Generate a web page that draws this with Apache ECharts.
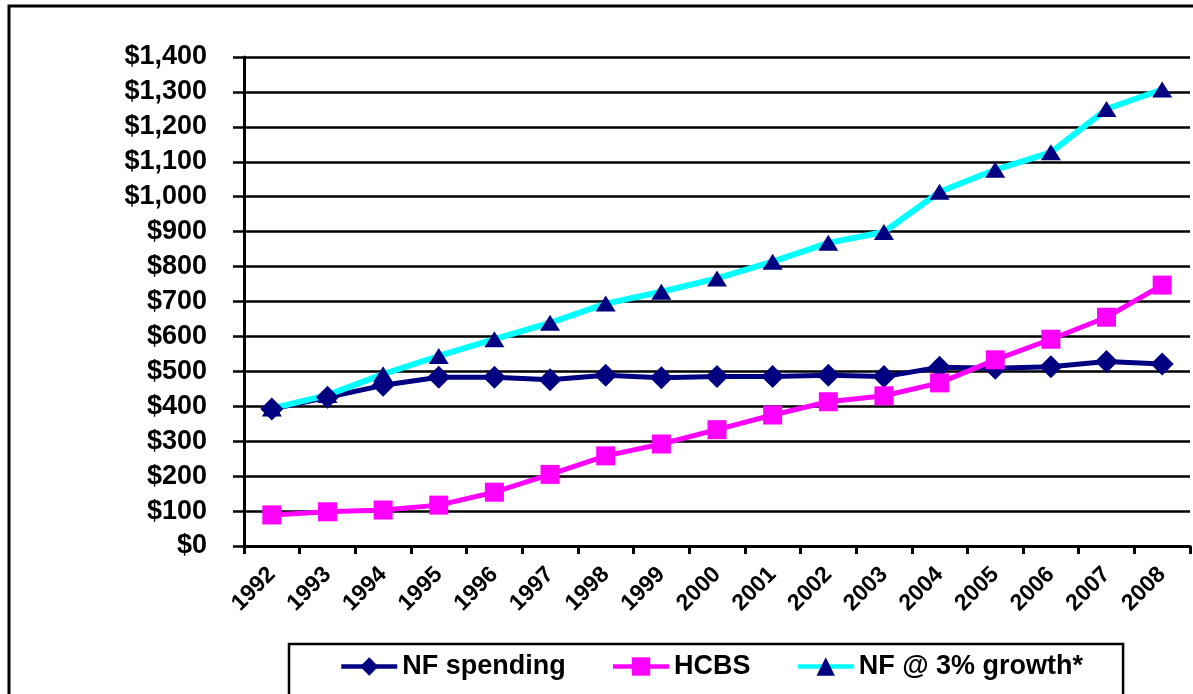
<!DOCTYPE html>
<html>
<head>
<meta charset="utf-8">
<title>NF spending vs HCBS</title>
<script src="https://cdn.jsdelivr.net/npm/echarts@6/dist/echarts.min.js"></script>
<style>
	html, body { margin: 0; padding: 0; background: #fff; }
	#main { width: 1193px; height: 694px; }
</style>
</head>
<body>
<div id="main"></div>
<script>
// years on the x axis
var years = ['1992', '1993', '1994', '1995', '1996', '1997', '1998', '1999', '2000',
	'2001', '2002', '2003', '2004', '2005', '2006', '2007', '2008'];

// values (millions of $)
var nfSpending = [392, 426, 460, 483, 483, 476, 489, 482, 485, 485, 489, 485, 512, 509, 513, 528, 521];
var hcbs = [89, 98, 103, 117, 154, 205, 258, 292, 333, 375, 413, 430, 467, 533, 592, 655, 747];
var nfGrowth = [394, 432, 492, 544, 592, 639, 694, 728, 766, 814, 868, 899, 1014, 1077, 1127, 1251, 1307];

var seriesNames = ['NF spending', 'HCBS', 'NF @ 3% growth*'];

var yMin = 0;
var yMax = 1400;
var yStep = 100;

var myChart = echarts.init(document.getElementById('main'));

var fontName = '"Liberation Sans", Arial, sans-serif';

var option = {
	animation: false,
	backgroundColor: '#fff',
	graphic: [{
		// outer chart frame (left and top edges visible)
		type: 'rect',
		shape: { x: 9, y: 6, width: 1300, height: 800 },
		style: { fill: 'none', stroke: '#000', lineWidth: 3 },
		silent: true
	}],
	grid: {
		left: 244,
		right: 3,
		top: 57,
		bottom: 148,
		containLabel: false
	},
	legend: {
		left: 289,
		top: 644,
		padding: [9, 40, 40, 50],
		borderColor: '#000',
		borderWidth: 2.5,
		itemGap: 45,
		itemWidth: 56,
		itemHeight: 23,
		lineStyle: { width: 4.5 },
		textStyle: {
			fontFamily: fontName,
			fontWeight: 'bold',
			fontSize: 27,
			color: '#000',
			padding: [0, 0, 0, 0]
		},
		data: seriesNames
	},
	xAxis: {
		type: 'category',
		boundaryGap: true,
		data: years,
		axisLine: {
			show: true,
			lineStyle: { color: '#000', width: 3 }
		},
		axisTick: {
			show: true,
			length: 8,
			alignWithLabel: false,
			lineStyle: { color: '#000', width: 3 }
		},
		axisLabel: {
			rotate: 45,
			margin: 25,
			interval: 0,
			color: '#000',
			fontFamily: fontName,
			fontWeight: 'bold',
			fontSize: 23
		},
		splitLine: { show: false }
	},
	yAxis: {
		type: 'value',
		min: yMin,
		max: yMax,
		interval: yStep,
		axisLine: {
			show: true,
			lineStyle: { color: '#000', width: 3 }
		},
		axisTick: {
			show: true,
			length: 11,
			lineStyle: { color: '#000', width: 2.5 }
		},
		axisLabel: {
			margin: 37,
			color: '#000',
			fontFamily: fontName,
			fontWeight: 'bold',
			fontSize: 27,
			formatter: function(v) {
				return '$' + v.toString().replace(/\B(?=(\d{3})+(?!\d))/g, ',');
			}
		},
		splitLine: {
			show: true,
			lineStyle: { color: '#000', width: 2.5 }
		}
	},
	series: [{
			name: seriesNames[0],
			type: 'line',
			data: nfSpending,
			symbol: 'diamond',
			symbolSize: 23,
			lineStyle: { color: '#000080', width: 5 },
			itemStyle: { color: '#000080' }
		},
		{
			name: seriesNames[1],
			type: 'line',
			data: hcbs,
			symbol: 'rect',
			symbolSize: 19,
			lineStyle: { color: '#ff00ff', width: 5 },
			itemStyle: { color: '#ff00ff' }
		},
		{
			name: seriesNames[2],
			type: 'line',
			data: nfGrowth,
			symbol: 'triangle',
			symbolSize: [20, 16],
			lineStyle: { color: '#00ffff', width: 6 },
			itemStyle: { color: '#000080' }
		}
	]
};

myChart.setOption(option);
</script>
</body>
</html>
